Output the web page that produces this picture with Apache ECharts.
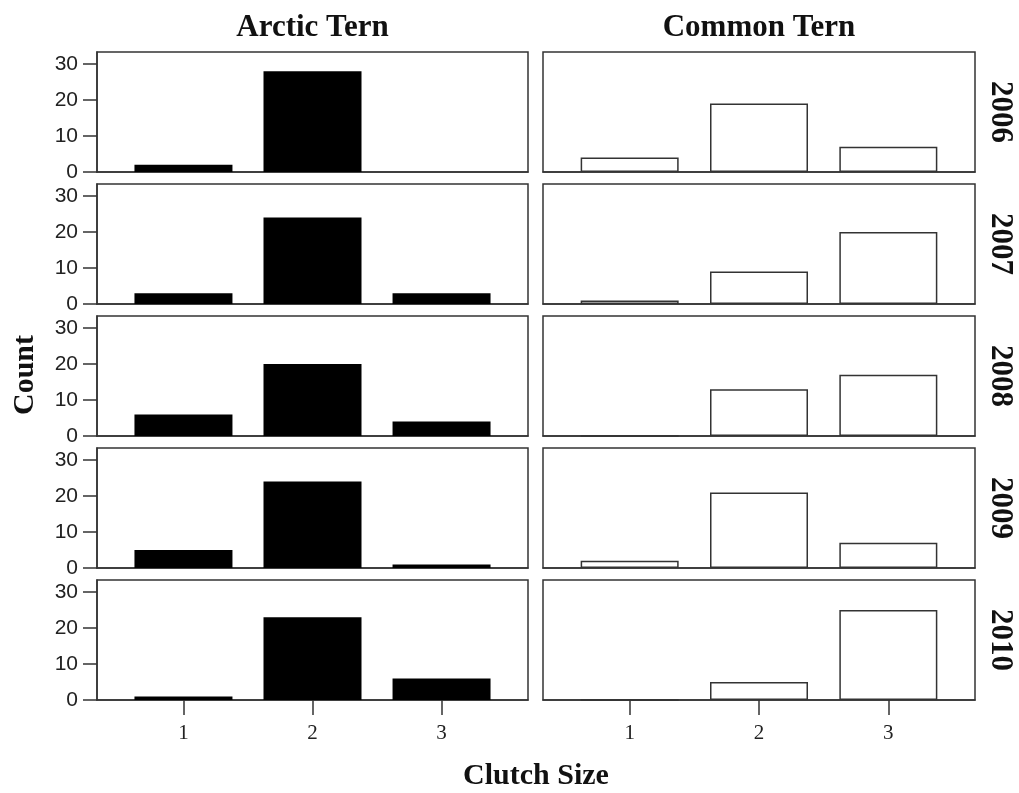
<!DOCTYPE html>
<html>
<head>
<meta charset="utf-8">
<script src="https://cdn.jsdelivr.net/npm/echarts@6/dist/echarts.min.js"></script>
<style>
html,body{margin:0;padding:0;background:#fff;}
#chart{width:1019px;height:793px;}
</style>
</head>
<body>
<div id="chart"></div>
<script>
// ---- data ----
const years = ['2006', '2007', '2008', '2009', '2010'];
const speciesNames = ['Arctic Tern', 'Common Tern'];
const clutchSizes = [1, 2, 3];
const yTickValues = [0, 10, 20, 30];
const xAxisTitle = 'Clutch Size';
const yAxisTitle = 'Count';

const arcticTern2006 = [2, 28, 0];
const arcticTern2007 = [3, 24, 3];
const arcticTern2008 = [6, 20, 4];
const arcticTern2009 = [5, 24, 1];
const arcticTern2010 = [1, 23, 6];

const commonTern2006 = [4, 19, 7];
const commonTern2007 = [1, 9, 20];
const commonTern2008 = [0, 13, 17];
const commonTern2009 = [2, 21, 7];
const commonTern2010 = [0, 5, 25];

const arcticTern = [arcticTern2006, arcticTern2007, arcticTern2008, arcticTern2009, arcticTern2010];
const commonTern = [commonTern2006, commonTern2007, commonTern2008, commonTern2009, commonTern2010];

// ---- layout ----
const colLeft = [97, 543];
const colWidth = [431, 432];
const rowTop = [52, 184, 316, 448, 580];
const rowHeight = 120;
const serifBold = 'Liberation Serif';
const frameColor = '#333';

const grids = [], xAxes = [], yAxes = [], series = [];
let idx = 0;
for (let r = 0; r < years.length; r++) {
  for (let c = 0; c < 2; c++) {
    grids.push({
      left: colLeft[c], top: rowTop[r], width: colWidth[c], height: rowHeight,
      show: true, borderColor: frameColor, borderWidth: 1.5, containLabel: false
    });
    const isBottom = r === years.length - 1;
    xAxes.push({
      type: 'value', gridIndex: idx, min: 0.33, max: 3.67,
      splitLine: { show: false },
      axisLine: { show: true, onZero: false, lineStyle: { color: frameColor, width: 1.5 } },
      axisTick: { show: isBottom, customValues: clutchSizes, length: 15, lineStyle: { color: frameColor, width: 1.5 } },
      axisLabel: { show: isBottom, customValues: clutchSizes, margin: 23, fontFamily: 'Liberation Serif', fontSize: 21, color: '#222' }
    });
    const isLeft = c === 0;
    yAxes.push({
      type: 'value', gridIndex: idx, min: 0, max: 33.33,
      splitLine: { show: false },
      axisLine: { show: isLeft, lineStyle: { color: frameColor, width: 1.5 } },
      axisTick: { show: isLeft, customValues: yTickValues, length: 14, lineStyle: { color: frameColor, width: 1.5 } },
      axisLabel: { show: isLeft, customValues: yTickValues, margin: 19, fontFamily: '"Liberation Sans Narrow", "Liberation Sans", sans-serif', fontSize: 21, color: '#222' }
    });
    const vals = c === 0 ? arcticTern[r] : commonTern[r];
    series.push({
      type: 'bar', xAxisIndex: idx, yAxisIndex: idx,
      barWidth: 98,
      data: clutchSizes.map((s, j) => [s, vals[j]]),
      itemStyle: c === 0
        ? { color: '#000', borderColor: '#000', borderWidth: 0 }
        : { color: '#fff', borderColor: frameColor, borderWidth: 1.5 },
      emphasis: { disabled: true },
      silent: true
    });
    idx++;
  }
}

const graphics = [];
speciesNames.forEach((name, c) => {
  graphics.push({
    type: 'text', x: colLeft[c] + colWidth[c] / 2, y: 28,
    style: { text: name, font: 'bold 31px ' + serifBold, fill: '#111', align: 'center', verticalAlign: 'middle' }
  });
});
years.forEach((yr, r) => {
  graphics.push({
    type: 'text', x: 1000, y: rowTop[r] + rowHeight / 2, rotation: -Math.PI / 2,
    style: { text: yr, font: 'bold 31px ' + serifBold, fill: '#111', align: 'center', verticalAlign: 'middle' }
  });
});
graphics.push({
  type: 'text', x: 25, y: 375, rotation: Math.PI / 2,
  style: { text: yAxisTitle, font: 'bold 30px ' + serifBold, fill: '#111', align: 'center', verticalAlign: 'middle' }
});
graphics.push({
  type: 'text', x: 536, y: 776,
  style: { text: xAxisTitle, font: 'bold 30px ' + serifBold, fill: '#111', align: 'center', verticalAlign: 'middle' }
});

const chart = echarts.init(document.getElementById('chart'), null, { renderer: 'canvas' });
chart.setOption({
  animation: false,
  backgroundColor: '#fff',
  grid: grids,
  xAxis: xAxes,
  yAxis: yAxes,
  series: series,
  graphic: graphics
});
</script>
</body>
</html>
